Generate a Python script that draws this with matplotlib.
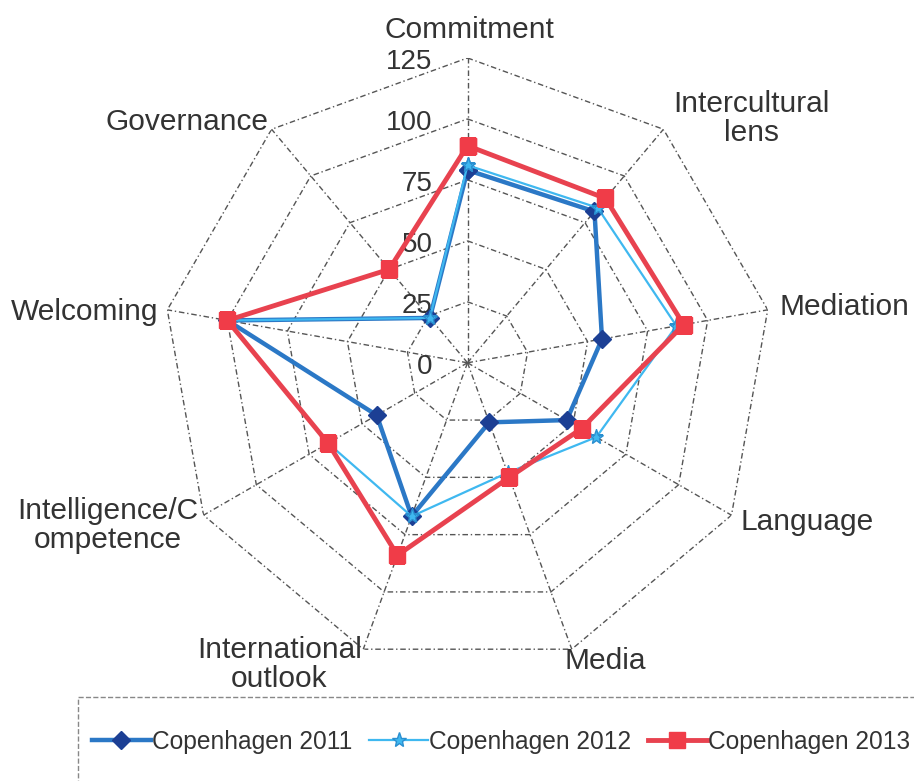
import numpy as np
import matplotlib
matplotlib.use('Agg')
from matplotlib import pyplot as plt
from matplotlib.patches import Rectangle

plt.rcParams['font.family'] = ['Liberation Sans', 'DejaVu Sans']

categories = ['Commitment', 'Intercultural\nlens', 'Mediation', 'Language', 'Media',
              'International\noutlook', 'Intelligence/C\nompetence', 'Welcoming', 'Governance']
cph_2011 = [79, 81, 56, 47, 26, 67, 43, 100, 24]
cph_2012 = [81, 83, 87, 61, 48, 67, 66, 100, 24]
cph_2013 = [89, 88, 90, 54, 50, 84, 66, 100, 50]
rings = [0, 25, 50, 75, 100, 125]

n = len(categories)
angles = np.linspace(0, 2 * np.pi, n, endpoint=False)
closed = np.append(angles, angles[0])

fig = plt.figure(figsize=(9.14, 7.81), dpi=100)
ax = fig.add_axes([0.178, 0.145, 0.667, 0.781], projection='polar')
ax.set_theta_zero_location('N')
ax.set_theta_direction(-1)
ax.set_ylim(0, 125)
ax.grid(False)
ax.spines['polar'].set_visible(False)
ax.set_xticks([])
ax.set_yticks([])

# polygon grid + spokes
grid_kw = dict(color='#555555', lw=1.0, linestyle=(0, (4, 2, 1, 2)), zorder=1)
for r in rings[1:]:
    ax.plot(closed, [r] * (n + 1), **grid_kw)
for a in angles:
    ax.plot([a, a], [0, 125], **grid_kw)

# radial labels
for r in rings:
    ax.annotate(str(r), xy=(0, r), xytext=(-35, -4), textcoords='offset pixels',
                ha='right', va='center', fontsize=20, color='#333333')

def close(v):
    return v + v[:1]

l1, = ax.plot(closed, close(cph_2011), color='#2b78c6', lw=3.2, marker='D', ms=9,
              mfc='#1c3f94', mec='#1c3f94', zorder=3)
l2, = ax.plot(closed, close(cph_2012), color='#3fb8f0', lw=1.6, marker='*', ms=11,
              mfc='#3fb8f0', mec='#2a8fd0', zorder=4)
l3, = ax.plot(closed, close(cph_2013), color='#e8424f', lw=3.5, marker='s', ms=12,
              mfc='#f03c48', mec='#f03c48', zorder=5)

# category labels
offsets = [(2, 28), (88, 11), (77, 3), (76, -7), (33, -12),
           (-84, -15), (-96, -10), (-83, -2), (-85, 7)]
for a, lab, off in zip(angles, categories, offsets):
    ax.annotate(lab, xy=(a, 125), xytext=off, textcoords='offset pixels',
                ha='center', va='center', fontsize=21.5, color='#333333',
                linespacing=1.05, multialignment='center', annotation_clip=False)

# legend box (dashed, runs off the right/bottom edge)
fig.patches.append(Rectangle((78 / 914, -0.05), 0.95, (781 - 697) / 781 + 0.05,
                             transform=fig.transFigure, fill=False, ec='#888888',
                             lw=1.0, ls='--'))
leg = fig.legend([l1, l2, l3], ['Copenhagen 2011', 'Copenhagen 2012', 'Copenhagen 2013'],
                 loc='center left', bbox_to_anchor=(92 / 914, 1 - 742 / 781), ncol=3,
                 fontsize=17.65, handlelength=2.4, handletextpad=0.05, columnspacing=0.68,
                 borderpad=0, borderaxespad=0, frameon=False)
for t in leg.get_texts():
    t.set_color('#333333')

fig.savefig('out.png', dpi=100)
